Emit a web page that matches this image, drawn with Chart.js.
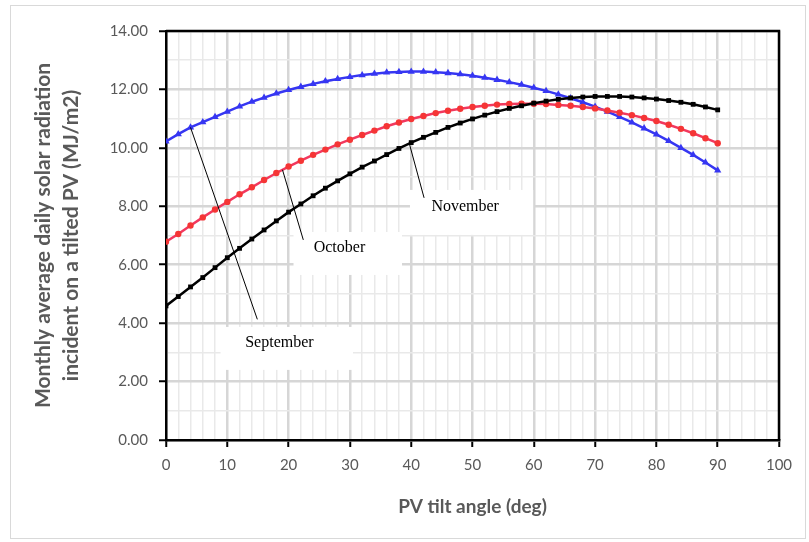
<!DOCTYPE html>
<html>
<head>
<meta charset="utf-8">
<script src="https://cdn.jsdelivr.net/npm/chart.js@4"></script>
<style>
  html, body { margin: 0; padding: 0; background: #fff; }
  #wrap { width: 809px; height: 542px; position: relative; }
</style>
</head>
<body>
<div id="wrap"><canvas id="chart" width="809" height="542"></canvas></div>
<script>
/* global Chart */

// PV tilt angle (deg)
const tiltAngles = [0, 2, 4, 6, 8, 10, 12, 14, 16, 18, 20, 22, 24, 26, 28, 30, 32, 34, 36, 38, 40, 42, 44,
  46, 48, 50, 52, 54, 56, 58, 60, 62, 64, 66, 68, 70, 72, 74, 76, 78, 80, 82, 84, 86, 88, 90];

// Monthly average daily radiation on tilted PV (MJ/m2)
const september = [10.22, 10.47, 10.70, 10.88, 11.06, 11.24, 11.42, 11.58, 11.72, 11.86, 11.98, 12.09, 12.19,
  12.28, 12.36, 12.43, 12.49, 12.54, 12.58, 12.60, 12.61, 12.61, 12.59, 12.56, 12.52, 12.47, 12.40, 12.33,
  12.25, 12.16, 12.06, 11.95, 11.83, 11.70, 11.56, 11.41, 11.24, 11.06, 10.87, 10.67, 10.46, 10.24, 10.00,
  9.76, 9.50, 9.23];
const october = [6.79, 7.05, 7.34, 7.62, 7.89, 8.15, 8.41, 8.65, 8.90, 9.14, 9.36, 9.56, 9.76, 9.94, 10.12,
  10.28, 10.44, 10.59, 10.74, 10.87, 10.99, 11.09, 11.19, 11.27, 11.34, 11.40, 11.44, 11.48, 11.50, 11.51,
  11.51, 11.50, 11.47, 11.44, 11.40, 11.35, 11.28, 11.20, 11.12, 11.02, 10.92, 10.79, 10.65, 10.50, 10.33,
  10.16];
const november = [4.59, 4.91, 5.24, 5.56, 5.90, 6.24, 6.56, 6.88, 7.19, 7.50, 7.80, 8.08, 8.36, 8.62, 8.87,
  9.11, 9.34, 9.55, 9.77, 9.98, 10.18, 10.36, 10.53, 10.70, 10.85, 10.99, 11.12, 11.24, 11.35, 11.44, 11.53,
  11.60, 11.66, 11.71, 11.74, 11.76, 11.76, 11.76, 11.74, 11.71, 11.67, 11.62, 11.56, 11.49, 11.40, 11.30];

// callout labels, in axis units: from = point on curve, to = end of pointer, text at, box extent
const callouts = [
  { text: 'September', from: [4, 10.70], to: [14.9, 4.13], at: [18.5, 3.32], box: [8.9, 30.5, 3.87, 2.40] },
  { text: 'October', from: [19, 9.25], to: [22.4, 6.85], at: [28.3, 6.58], box: [20.8, 38.5, 7.12, 5.65] },
  { text: 'November', from: [39.7, 10.14], to: [42.1, 8.29], at: [48.8, 7.98], box: [39.8, 59.9, 8.56, 7.02] }
];

const AXIS_GREY = '#595959';
const FONT = 'Lato, "Open Sans", sans-serif';

function toPoints(values) {
  return values.map((v, i) => ({ x: tiltAngles[i], y: v }));
}

// outer light frame round the whole chart + black frame round plot area
const framePlugin = {
  id: 'frames',
  beforeDraw(chart) {
    const c = chart.ctx;
    c.save();
    c.fillStyle = '#fff';
    c.fillRect(0, 0, chart.width, chart.height);
    c.strokeStyle = '#d9d9d9';
    c.lineWidth = 1;
    c.strokeRect(10.5, 5.5, chart.width - 14, chart.height - 9);
    c.restore();
  },
  afterDraw(chart) {
    const a = chart.chartArea;
    const c = chart.ctx;
    c.save();
    c.strokeStyle = '#000';
    c.lineWidth = 2.5;
    c.beginPath();
    c.moveTo(a.left, a.top);
    c.lineTo(a.right, a.top);
    c.lineTo(a.right, a.bottom);
    c.stroke();
    c.restore();
  }
};

// white boxes behind callouts, then pointer lines and text
const calloutPlugin = {
  id: 'callouts',
  beforeDatasetsDraw(chart) {
    const xs = chart.scales.x, ys = chart.scales.y;
    const c = chart.ctx;
    c.save();
    c.fillStyle = '#fff';
    callouts.forEach(o => {
      const l = xs.getPixelForValue(o.box[0]), r = xs.getPixelForValue(o.box[1]);
      const t = ys.getPixelForValue(o.box[2]), b = ys.getPixelForValue(o.box[3]);
      c.fillRect(l, t, r - l, b - t);
    });
    c.restore();
  },
  afterDatasetsDraw(chart) {
    const xs = chart.scales.x, ys = chart.scales.y;
    const c = chart.ctx;
    c.save();
    c.strokeStyle = '#000';
    c.lineWidth = 1;
    c.fillStyle = '#000';
    c.font = '16px "Liberation Serif", "Times New Roman", serif';
    c.textAlign = 'center';
    c.textBaseline = 'middle';
    callouts.forEach(o => {
      c.beginPath();
      c.moveTo(xs.getPixelForValue(o.from[0]), ys.getPixelForValue(o.from[1]));
      c.lineTo(xs.getPixelForValue(o.to[0]), ys.getPixelForValue(o.to[1]));
      c.stroke();
      c.fillText(o.text, xs.getPixelForValue(o.at[0]), ys.getPixelForValue(o.at[1]));
    });
    c.restore();
  }
};

const ctx = document.getElementById('chart').getContext('2d');

new Chart(ctx, {
  type: 'line',
  data: {
    datasets: [
      {
        label: 'November',
        data: toPoints(november),
        borderColor: '#000',
        backgroundColor: '#000',
        borderWidth: 2.5,
        pointStyle: 'rect',
        pointRadius: 3.4,
        pointBorderWidth: 0,
        tension: 0
      },
      {
        label: 'October',
        data: toPoints(october),
        borderColor: '#f2385e',
        backgroundColor: '#f53535',
        borderWidth: 2.5,
        pointStyle: 'circle',
        pointRadius: 3.2,
        pointBorderWidth: 0,
        tension: 0
      },
      {
        label: 'September',
        data: toPoints(september),
        borderColor: '#3636f2',
        backgroundColor: '#3636f2',
        borderWidth: 2.5,
        pointStyle: 'triangle',
        pointRadius: 4.2,
        pointBorderWidth: 0,
        tension: 0
      }
    ]
  },
  options: {
    responsive: false,
    animation: false,
    events: [],
    layout: { padding: { top: 31, right: 30, left: 0, bottom: 0 } },
    plugins: { legend: { display: false }, tooltip: { enabled: false } },
    scales: {
      x: {
        type: 'linear',
        min: 0,
        max: 100,
        afterFit: (s) => { s.height = 102; },
        border: { color: '#000', width: 2.5 },
        grid: {
          color: (c) => (c.tick && c.tick.value % 10 === 0) ? '#d6d6d6' : '#e9e9e9',
          lineWidth: (c) => (c.tick && c.tick.value % 10 === 0) ? 2.5 : 1.5,
          tickColor: (c) => (c.tick && c.tick.value % 10 === 0) ? '#000' : 'rgba(0,0,0,0)',
          tickWidth: 2,
          tickLength: 7
        },
        ticks: {
          stepSize: 2,
          autoSkip: false,
          maxRotation: 0,
          padding: 9,
          color: AXIS_GREY,
          font: { family: FONT, size: 15 },
          callback: (v) => (v % 10 === 0 ? String(v) : '')
        },
        title: {
          display: true,
          text: 'PV tilt angle (deg)',
          color: AXIS_GREY,
          font: { family: FONT, size: 19, weight: 'bold' },
          padding: { top: 0, bottom: 24 }
        }
      },
      y: {
        min: 0,
        max: 14,
        afterFit: (s) => { s.width = 166; },
        border: { color: '#000', width: 2.5 },
        grid: {
          color: (c) => (c.tick && c.tick.value % 2 === 0) ? '#d6d6d6' : '#e9e9e9',
          lineWidth: (c) => (c.tick && c.tick.value % 2 === 0) ? 2.5 : 1.5,
          tickColor: (c) => (c.tick && c.tick.value % 2 === 0) ? '#000' : 'rgba(0,0,0,0)',
          tickWidth: 2,
          tickLength: 7
        },
        ticks: {
          stepSize: 1,
          autoSkip: false,
          padding: 11,
          color: AXIS_GREY,
          font: { family: FONT, size: 15 },
          callback: (v) => (v % 2 === 0 ? v.toFixed(2) : '')
        },
        title: {
          display: true,
          text: ['Monthly average daily solar radiation', 'incident on a tilted PV (MJ/m2)'],
          color: AXIS_GREY,
          font: { family: FONT, size: 21, weight: 'bold', lineHeight: 1.3 },
          padding: { top: 30, bottom: 0 }
        }
      }
    }
  },
  plugins: [framePlugin, calloutPlugin]
});
</script>
</body>
</html>
